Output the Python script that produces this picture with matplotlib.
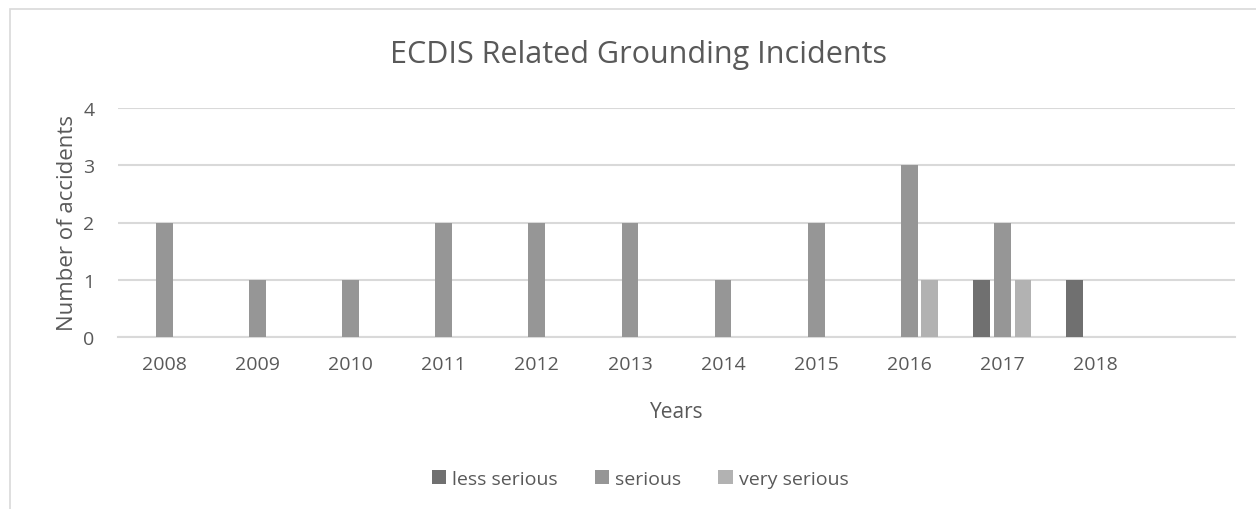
import numpy as np
import matplotlib.pyplot as plt
from matplotlib.patches import Rectangle

plt.rcParams['font.family'] = ['Open Sans', 'DejaVu Sans']

# datos del grafico
years = ['2008', '2009', '2010', '2011', '2012', '2013', '2014', '2015', '2016', '2017', '2018', '']
less_serious = [0, 0, 0, 0, 0, 0, 0, 0, 0, 1, 1, 0]
serious = [2, 1, 1, 2, 2, 2, 1, 2, 3, 2, 0, 0]
very_serious = [0, 0, 0, 0, 0, 0, 0, 0, 1, 1, 0, 0]

text_col = '#595959'
grid_col = '#d9d9d9'

fig = plt.figure(figsize=(12.56, 5.10), dpi=100)
ax = fig.add_axes([118/1256, 1-338/510, (1235-118)/1256, (338-109)/510])

x = np.arange(len(years))
w = 0.18
d = 0.222
ax.bar(x - d, less_serious, w, color='#707070', label='less serious', zorder=3)
ax.bar(x, serious, w, color='#969696', label='serious', zorder=3)
ax.bar(x + d, very_serious, w, color='#b2b2b2', label='very serious', zorder=3)

ax.set_xlim(-0.5, len(years) - 0.5)
ax.set_ylim(0, 4)
ax.set_yticks([0, 1, 2, 3, 4])
ax.set_xticks(x)
ax.set_xticklabels(years)
ax.grid(axis='y', color=grid_col, linewidth=1.5, zorder=0)
for s in ['top', 'right', 'left']:
    ax.spines[s].set_visible(False)
ax.spines['bottom'].set_color(grid_col)
ax.spines['bottom'].set_linewidth(1.5)
ax.tick_params(length=0, colors=text_col, labelsize=14)
ax.tick_params(axis='x', pad=13)
ax.tick_params(axis='y', pad=17)

ax.set_xlabel('Years', fontsize=15, color=text_col, labelpad=20)
ax.set_ylabel('Number of accidents', fontsize=16, color=text_col, labelpad=4)
fig.text(638/1256, 1-55/510, 'ECDIS Related Grounding Incidents', ha='center', va='center',
         fontsize=22, color=text_col)

fig.legend(loc='center', bbox_to_anchor=(640/1256, 1-480/510), ncol=3, frameon=False,
           fontsize=14, labelcolor=text_col, handlelength=0.75, handleheight=0.75,
           handletextpad=0.3, columnspacing=1.9)

# marco del grafico
fig.patches.append(Rectangle((10/1256, -0.1), 1.2, 1.1 - 10/510, transform=fig.transFigure,
                             fill=False, edgecolor='#d9d9d9', linewidth=1.2))

plt.savefig('out.png')
